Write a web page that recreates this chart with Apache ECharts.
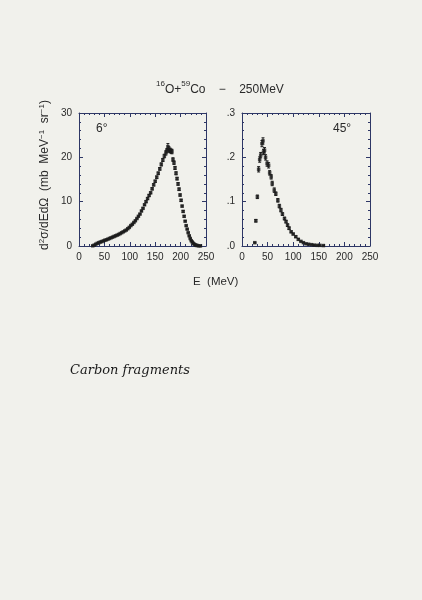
<!DOCTYPE html>
<html>
<head>
<meta charset="utf-8">
<script src="https://cdn.jsdelivr.net/npm/echarts@6/dist/echarts.min.js"></script>
<style>
html,body{margin:0;padding:0;background:#f1f1ec;}
#c{width:422px;height:600px;}
</style>
</head>
<body>
<div id="c"></div>
<script>
// 6 degree panel
var E6 = [27,30,33,36,39,42,45,48,51,54,57,60,63,66,69,72,75,78,81,84,87,90,93,96,99,102,105,108,111,114,117,120,123,126,129,132,135,138,141,144,147,150,153,156,159,162,165,168,171,173,175,177,179,181,183,185,187,189,191,193,195,197,199,201,203,205,207,209,211,213,215,217,219,221,223,225,227,229,231,233,236,239];
var Y6 = [0.05,0.2,0.4,0.6,0.75,0.9,1.0,1.15,1.3,1.4,1.55,1.7,1.85,2.0,2.15,2.3,2.45,2.6,2.8,3.0,3.2,3.4,3.6,3.9,4.2,4.6,4.9,5.3,5.7,6.2,6.7,7.2,7.9,8.5,9.3,10.0,10.7,11.4,12.0,12.9,13.8,14.6,15.5,16.4,17.4,18.4,19.4,20.3,21.0,21.5,22.4,21.8,21.6,21.4,21.3,19.5,18.8,17.6,16.4,15.2,14.0,12.8,11.5,10.3,9.0,7.8,6.7,5.6,4.6,3.8,3.0,2.3,1.7,1.2,0.9,0.6,0.4,0.25,0.15,0.1,0.05,0.02];
var ERR6 = [0.05,0.05,0.05,0.05,0.05,0.05,0.05,0.05,0.05,0.05,0.05,0.05,0.05,0.05,0.05,0.05,0.05,0.05,0.05,0.05,0.05,0.05,0.05,0.1,0.1,0.1,0.1,0.1,0.1,0.1,0.1,0.15,0.15,0.15,0.15,0.2,0.2,0.2,0.2,0.25,0.25,0.25,0.3,0.3,0.3,0.35,0.35,0.4,0.5,0.5,0.7,0.6,0.5,0.5,0.5,0.4,0.4,0.35,0.35,0.3,0.3,0.3,0.25,0.25,0.2,0.2,0.2,0.15,0.15,0.1,0.1,0.1,0.1,0.05,0.05,0.05,0.05,0.05,0.05,0.05,0.05,0.05];

// 45 degree panel
var E45 = [25,27,30,32.5,34.5,36.5,39,41,42,44,46,49,52,54,57,59,63,66,70,73,76,79,83,86,89,92,96,100,105,110,115,120,125,130,136,141,147,152,159];
var Y45 = [0.0075,0.057,0.111,0.173,0.195,0.205,0.231,0.237,0.212,0.216,0.2,0.186,0.182,0.165,0.156,0.141,0.126,0.118,0.103,0.09,0.081,0.072,0.062,0.055,0.047,0.04,0.032,0.027,0.021,0.015,0.0105,0.0075,0.005,0.004,0.003,0.002,0.0015,0.0015,0.001];
var ERR45 = [0.001,0.003,0.004,0.006,0.006,0.006,0.007,0.007,0.006,0.006,0.006,0.006,0.006,0.005,0.005,0.005,0.005,0.004,0.004,0.004,0.004,0.003,0.003,0.003,0.003,0.003,0.002,0.002,0.002,0.002,0.001,0.001,0.001,0.001,0.001,0.001,0.001,0.001,0.001];

var xTicks = [0,50,100,150,200,250];
var yTicks6 = [0,10,20,30];
var yTicks45 = [0,0.1,0.2,0.3];

var FONT = 'Liberation Sans';
var AX = '#2e3766';
var TXT = '#2a2a2a';
var PT = '#1b1b1b';

function pts(xs, ys){ return xs.map(function(x,i){ return [x, ys[i]]; }); }
function errs(xs, ys, es){ return xs.map(function(x,i){ return [x, ys[i], es[i]]; }); }

function errItem(params, api){
  var x = api.value(0), y = api.value(1), e = api.value(2);
  var p1 = api.coord([x, y - e]), p2 = api.coord([x, y + e]);
  return {type:'group', children:[
    {type:'line', shape:{x1:p1[0], y1:p1[1], x2:p2[0], y2:p2[1]}, style:{stroke:PT, lineWidth:1}},
    {type:'line', shape:{x1:p1[0]-1.5, y1:p1[1], x2:p1[0]+1.5, y2:p1[1]}, style:{stroke:PT, lineWidth:1}},
    {type:'line', shape:{x1:p2[0]-1.5, y1:p2[1], x2:p2[0]+1.5, y2:p2[1]}, style:{stroke:PT, lineWidth:1}}
  ]};
}

function xAx(gi, pos, showLabel){
  return {
    type:'value', gridIndex:gi, position:pos, min:0, max:250, interval:50,
    axisLine:{show:true, onZero:false, lineStyle:{color:AX, width:1}},
    axisTick:{show:true, inside:true, length:4, lineStyle:{color:AX}},
    minorTick:{show:true, splitNumber:5, length:2, lineStyle:{color:AX}},
    splitLine:{show:false},
    axisLabel:{show:showLabel, fontFamily:FONT, fontSize:10, color:TXT, margin:6}
  };
}
function yAx(gi, pos, max, interval, showLabel, fmt){
  return {
    type:'value', gridIndex:gi, position:pos, min:0, max:max, interval:interval,
    axisLine:{show:true, onZero:false, lineStyle:{color:AX, width:1}},
    axisTick:{show:true, inside:true, length:4, lineStyle:{color:AX}},
    minorTick:{show:true, splitNumber:5, length:2, lineStyle:{color:AX}},
    splitLine:{show:false},
    axisLabel:{show:showLabel, fontFamily:FONT, fontSize:10, color:TXT, margin:7, formatter:fmt}
  };
}

var chart = echarts.init(document.getElementById('c'), null, {renderer:'canvas'});
chart.setOption({
  backgroundColor:'#f1f1ec',
  animation:false,
  grid:[
    {left:79, top:113, width:127, height:133},
    {left:242, top:113, width:128, height:133}
  ],
  xAxis:[ xAx(0,'bottom',true), xAx(1,'bottom',true), xAx(0,'top',false), xAx(1,'top',false) ],
  yAxis:[
    yAx(0,'left',30,10,true,function(v){return String(v);}),
    yAx(1,'left',0.3,0.1,true,function(v){return '.'+Math.round(v*10);}),
    yAx(0,'right',30,10,false),
    yAx(1,'right',0.3,0.1,false)
  ],
  series:[
    {type:'custom', xAxisIndex:0, yAxisIndex:0, renderItem:errItem, data:errs(E6,Y6,ERR6), silent:true},
    {type:'scatter', xAxisIndex:0, yAxisIndex:0, symbol:'rect', symbolSize:3.5, itemStyle:{color:PT}, data:pts(E6,Y6), silent:true},
    {type:'custom', xAxisIndex:1, yAxisIndex:1, renderItem:errItem, data:errs(E45,Y45,ERR45), silent:true},
    {type:'scatter', xAxisIndex:1, yAxisIndex:1, symbol:'rect', symbolSize:3.5, itemStyle:{color:PT}, data:pts(E45,Y45), silent:true}
  ],
  graphic:[
    {type:'text', left:156, top:80, style:{
      text:'{s|16}{n|O+}{s|59}{n|Co    −    250MeV}',
      rich:{
        n:{fontFamily:FONT, fontSize:12, fill:TXT, verticalAlign:'bottom', lineHeight:16},
        s:{fontFamily:FONT, fontSize:8, fill:TXT, verticalAlign:'top', lineHeight:16, padding:[0,0,7,0]}
      }
    }},
    {type:'text', x:45, y:175, rotation:Math.PI/2, style:{
      text:'{n|d}{s|2}{n|σ/dEdΩ  (mb  MeV}{s|−1}{n|  sr}{s|−1}{n|)}',
      align:'center', verticalAlign:'middle',
      rich:{
        n:{fontFamily:FONT, fontSize:12, fill:TXT, lineHeight:16},
        s:{fontFamily:FONT, fontSize:8, fill:TXT, lineHeight:16, padding:[0,0,7,0]}
      }
    }},
    {type:'text', left:193, top:276, style:{text:'E  (MeV)', fontFamily:FONT, fontSize:11.5, fill:TXT}},
    {type:'text', left:96, top:123, style:{text:'6°', fontFamily:FONT, fontSize:12, fill:TXT}},
    {type:'text', left:333, top:123, style:{text:'45°', fontFamily:FONT, fontSize:12, fill:TXT}},
    {type:'text', left:70, top:364, style:{text:'Carbon fragments', fontFamily:'DejaVu Serif', fontStyle:'italic', fontSize:13, fill:'#1a1a1a'}}
  ]
});
</script>
</body>
</html>
